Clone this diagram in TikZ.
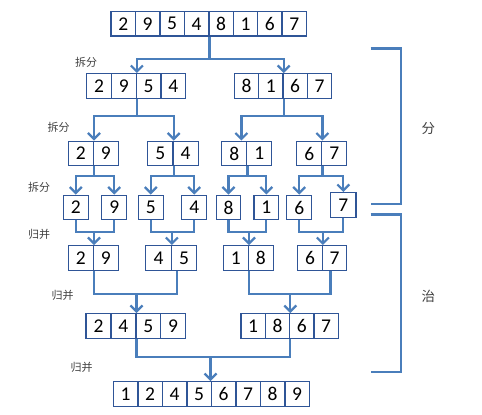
\documentclass[tikz,border=0pt]{standalone}
\usepackage{fontspec}
\newfontfamily\digitfont{Carlito}
\newfontfamily\cjk{Noto Sans CJK SC}
\usetikzlibrary{arrows.meta,calc}
\definecolor{boxblue}{HTML}{2F5597}
\definecolor{lineblue}{HTML}{4A7EBB}
\definecolor{labelgray}{HTML}{404040}
\newcommand\cellrow[5]{\foreach \d [count=\i] in {#5} \node[cell, minimum width=#4pt] (#1c\i) at ({#2+#4*(\i-0.5)}, #3) {\d};}
\begin{document}
\begin{tikzpicture}[x=1pt,y=-1pt,
  cell/.style={draw=boxblue,line width=1.4pt,minimum height=24.5pt,minimum width=24.5pt,inner sep=0pt,font=\digitfont\fontsize{19.5}{19.5}\selectfont,text=black},
  conn/.style={draw=lineblue,line width=2.2pt},
  tip/.style={-{Straight Barb[length=6pt,width=12pt]}},
  lab/.style={font=\cjk\fontsize{11}{11}\selectfont,text=labelgray},
  biglab/.style={font=\cjk\fontsize{13.5}{13.5}\selectfont,text=labelgray}]
\useasboundingbox (0,0) rectangle (482,415);
% rows
\cellrow{r1}{111}{23.8}{24.45}{2,9,5,4,8,1,6,7}
\cellrow{r2L}{86.7}{86}{24.75}{2,9,5,4}
\cellrow{r2R}{234.3}{86}{24.35}{8,1,6,7}
\cellrow{r3A}{68.3}{153.5}{25}{2,9}
\cellrow{r3B}{147.7}{153.5}{25.3}{5,4}
\cellrow{r3C}{221.7}{153.5}{25}{8,1}
\cellrow{r3D}{296.7}{153.5}{25}{6,7}
\node[cell,minimum width=25pt] (s1) at (75.8,207.5) {2};
\node[cell,minimum width=25pt] (s2) at (114.2,207.5) {9};
\node[cell,minimum width=25pt] (s3) at (150.8,207.5) {5};
\node[cell,minimum width=25pt] (s4) at (194.2,207.5) {4};
\node[cell,minimum width=24.5pt] (s5) at (228.5,207.5) {8};
\node[cell,minimum width=24.7pt] (s6) at (266.3,207.5) {1};
\node[cell,minimum width=25pt] (s7) at (299.2,207.5) {6};
\node[cell,minimum width=25.3pt] (s8) at (343.3,205) {7};
\cellrow{r5A}{68.3}{258}{25}{2,9}
\cellrow{r5B}{145.7}{258}{25.5}{4,5}
\cellrow{r5C}{223.3}{258}{25}{1,8}
\cellrow{r5D}{297.7}{258}{24.5}{6,7}
\cellrow{r6L}{86}{326}{24.9}{2,4,5,9}
\cellrow{r6R}{241}{326}{24.3}{1,8,6,7}
\cellrow{r7}{113.3}{394}{24.5}{1,2,4,5,6,7,8,9}
% split 1 -> 2
\coordinate (j1) at (r1c4.south east |- 0,59.3);
\draw[conn] (r1c4.south east) -- (j1);
\draw[conn,tip] (j1) -| (r2Lc2.north east);
\draw[conn,tip] (j1) -| (r2Rc2.north east);
% split 2 -> 3
\coordinate (j2L) at (r2Lc2.south east |- 0,116);
\draw[conn] (r2Lc2.south east) -- (j2L);
\draw[conn,tip] (j2L) -| (r3Ac1.north east);
\draw[conn,tip] (j2L) -| (r3Bc1.north east);
\coordinate (j2R) at (r2Rc2.south east |- 0,116);
\coordinate (t3C) at ($(r3Cc1.north east)+(-6,0)$);
\draw[conn] (r2Rc2.south east) -- (j2R);
\draw[conn,tip] (j2R) -| (t3C);
\draw[conn,tip] (j2R) -| (r3Dc1.north east);
% split 3 -> 4
\foreach \r/\a/\b in {A/s1/s2,B/s3/s4,C/s5/s6,D/s7/s8}{
  \coordinate (j3\r) at (r3\r c1.south east |- 0,176);
  \draw[conn] (r3\r c1.south east) -- (j3\r);
  \draw[conn,tip] (j3\r) -| (\a.north);
  \draw[conn,tip] (j3\r) -| (\b.north);
}
% merge 4 -> 5
\foreach \r/\a/\b in {A/s1/s2,B/s3/s4,C/s5/s6,D/s7/s8}{
  \draw[conn] (\a.south) |- (\b.south |- 0,231.7) -- (\b.south);
  \coordinate (k5\r) at (r5\r c1.north east |- 0,231.7);
  \draw[conn,tip] (k5\r) -- (r5\r c1.north east);
}
% merge 5 -> 6
\coordinate (m5B) at ($(r5Bc1.south east)+(5,0)$);
\coordinate (m5D) at ($(r5Dc2.south)+(-4,0)$);
\coordinate (k6L) at (r6Lc2.north east |- 0,294.3);
\coordinate (k6R) at (r6Rc2.north east |- 0,294.3);
\draw[conn] (r5Ac1.south east) |- (m5B |- 0,294.3) -- (m5B);
\draw[conn,tip] (k6L) -- (r6Lc2.north east);
\draw[conn] (r5Cc1.south east) |- (m5D |- 0,294.3) -- (m5D);
\draw[conn,tip] (k6R) -- (r6Rc2.north east);
% merge 6 -> 7
\coordinate (t7) at ($(r7c4.north east)+(-1.5,0)$);
\coordinate (k7) at (t7 |- 0,356.7);
\draw[conn] (r6Lc2.south east) |- (r6Rc2.south east |- 0,356.7) -- (r6Rc2.south east);
\draw[conn,tip] (k7) -- (t7);
% labels
\node[lab] (l1) at (86,62.7) {拆分};
\node[lab] (l2) at (58.5,127.7) {拆分};
\node[lab] (l3) at (39,187.3) {拆分};
\node[lab] (l4) at (39,234.3) {归并};
\node[lab] (l5) at (62.5,295.7) {归并};
\node[lab] (l6) at (81.5,367.3) {归并};
% brackets
\coordinate (bu1) at (370.7,48.3);
\coordinate (bu2) at (401,48.3);
\coordinate (bu3) at (401,204);
\coordinate (bu4) at (370.7,204);
\coordinate (bl1) at (370.7,214.3);
\coordinate (bl2) at (401,214.3);
\coordinate (bl3) at (401,371.7);
\coordinate (bl4) at (370.7,371.7);
\draw[conn,line width=2.4pt] (bu1) -- (bu2) -- (bu3) -- (bu4);
\draw[conn,line width=2.4pt] (bl1) -- (bl2) -- (bl3) -- (bl4);
\node[biglab] (fen) at (428.3,129) {分};
\node[biglab] (zhi) at (428.3,296.7) {治};
\end{tikzpicture}
\end{document}
